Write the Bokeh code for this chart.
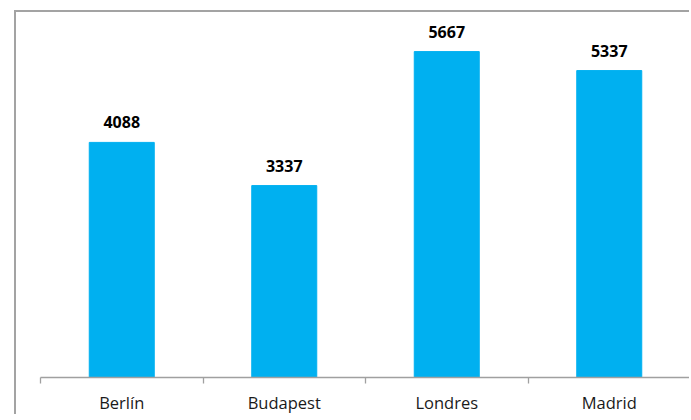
from bokeh.plotting import figure
from bokeh.models import FixedTicker, Range1d, ColumnDataSource
from bokeh.core.properties import value
from bokeh.embed import file_html
from bokeh.resources import INLINE

categories = ["Berlín", "Budapest", "Londres", "Madrid"]
values = [4088, 3337, 5667, 5337]

xpos = [i + 0.5 for i in range(len(categories))]
src = ColumnDataSource(dict(x=xpos, top=values, label=[str(v) for v in values]))

# frame spans 366 px; 0..6000 occupies the lower 346 px
y_top = 6000 * 366 / 346

p = figure(width=675, height=404, output_backend="svg", toolbar_location=None,
           x_range=Range1d(0, len(categories)), y_range=Range1d(0, y_top),
           min_border_left=24, min_border_right=1, min_border_top=0, min_border_bottom=38,
           styles={"margin-left": "14px", "margin-top": "10px",
                   "border-top": "2px solid #a3a3a3", "border-left": "2px solid #a3a3a3"})

p.vbar(x="x", top="top", bottom=0, width=0.4, source=src, color="#00B0F0")
p.text(x="x", y="top", text="label", source=src, text_align="center",
       text_baseline="alphabetic", y_offset=-20, text_font=value("Open Sans"),
       text_font_size="16px", text_font_style="bold", text_color="#000000")

p.yaxis.visible = False
p.grid.visible = False
p.outline_line_color = None
p.background_fill_color = "white"
p.border_fill_color = "white"

ax = p.xaxis[0]
ax.ticker = FixedTicker(ticks=xpos, minor_ticks=list(range(len(categories) + 1)))
ax.major_label_overrides = {x: c for x, c in zip(xpos, categories)}
ax.major_tick_line_color = None
ax.minor_tick_line_color = "#a0a0a0"
ax.minor_tick_out = 6
ax.minor_tick_in = 0
ax.minor_tick_line_width = 1.3
ax.axis_line_color = "#a0a0a0"
ax.axis_line_width = 1.3
ax.major_label_standoff = 7
ax.major_label_text_font = "Open Sans"
ax.major_label_text_font_size = "16.5px"
ax.major_label_text_color = "#1a1a1a"

open("out.html", "w").write(file_html(p, INLINE))
